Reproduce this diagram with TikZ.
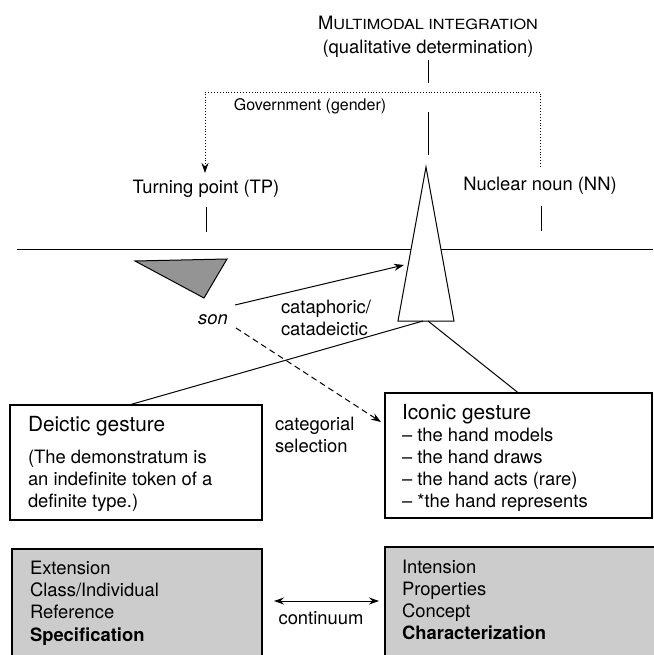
\documentclass[tikz,border=0pt]{standalone}
\usepackage{fontspec}
\usepackage{graphicx}
\setmainfont{TeX Gyre Heros}
\usetikzlibrary{arrows.meta}
\begin{document}
\begin{tikzpicture}[x=1pt,y=-1pt,
  every node/.style={font=\fontsize{18.4}{22}\selectfont, inner sep=0pt, outer sep=0pt},
  ttl/.style={font=\fontsize{20.8}{24}\selectfont},
  sml/.style={font=\fontsize{16}{19}\selectfont},
  txt/.style={anchor=base west},
  ctr/.style={anchor=base},
  ln/.style={line width=1pt},
  boxw/.style={draw, line width=1.2pt, fill=white, anchor=north west},
  boxg/.style={draw, line width=1.2pt, fill=black!20, anchor=north west},
  arr/.style={-{Stealth[length=10pt,width=7pt]}},
  darr/.style={{Stealth[length=10pt,width=7pt]}-{Stealth[length=10pt,width=7pt]}}
]
\useasboundingbox (0,0) rectangle (653,655);

% title
\node[ctr] (mi) at (428,29.5) {M{\fontsize{14}{16}\selectfont\scalebox{1.16}[1]{ULTIMODAL INTEGRATION}}};
\node[ctr] (qd) at (428,53.5) {(qualitative determination)};
\coordinate (t1a) at (428,60); \coordinate (t1b) at (428,83);
\draw[ln] (t1a) -- (t1b);
\coordinate (t2a) at (428,112); \coordinate (t2b) at (428,155);
\draw[ln] (t2a) -- (t2b);

% TP / NN
\node[ctr] (tp) at (206,193.5) {Turning point (TP)};
\node[ctr] (nn) at (540,190.5) {Nuclear noun (NN)};
\coordinate (tpa) at (206,207); \coordinate (tpb) at (206,232);
\draw[ln] (tpa) -- (tpb);
\coordinate (nna) at (541,206); \coordinate (nnb) at (541,231);
\draw[ln] (nna) -- (nnb);

% government (dotted)
\coordinate (nntop) at (540,167);
\coordinate (dr) at (540,92);
\coordinate (dl) at (205,92);
\coordinate (tptop) at (205,173);
\draw[dotted, line width=0.9pt, arr] (nntop) -- (dr) -- (dl) -- (tptop);
\node[sml, ctr] (gov) at (310,110.7) {Government (gender)};

% horizontal line
\coordinate (hl) at (17,249.5); \coordinate (hr) at (653,249.5);
\draw[line width=1.1pt] (hl) -- (hr);

% big triangle
\coordinate (apex) at (426,167);
\coordinate (bl) at (398,321);
\coordinate (br) at (454,321);
\draw[ln, fill=white] (apex) -- (bl) -- (br) -- cycle;
\coordinate (basel) at (423,321);
\coordinate (baser) at (428,321);

% gray triangle
\draw[ln, fill=black!42] (135,261) -- (227,259) -- (204,298) -- cycle;

% son
\node[ctr, font=\fontsize{18.4}{22}\selectfont\itshape] (son) at (213,324) {son};
\coordinate (sa) at (235,305);
\coordinate (ta) at (404,265);
\draw[ln, arr] (sa) -- (ta);
\node[txt] (cat1) at (281,313.5) {cataphoric/};
\node[txt] (cat2) at (281,335) {catadeictic};

% boxes
\node[boxw, minimum width=252, minimum height=115] (dg) at (10,405) {};
\node[boxw, minimum width=267, minimum height=125] (ic) at (385,393) {};
\coordinate (dgtop) at (129,405);
\draw[ln] (basel) -- (dgtop);
\draw[ln] (baser) -- (ic.north);

% dashed
\coordinate (sb) at (236,328);
\coordinate (ica) at (381,422);
\draw[ln, dashed, dash pattern=on 6pt off 4pt, arr] (sb) -- (ica);

% deictic text
\node[ttl, txt] (dg1) at (28,431.5) {Deictic gesture};
\node[txt] (dg2) at (28,463.5) {(The demonstratum is};
\node[txt] (dg3) at (28,485.5) {an indefinite token of a};
\node[txt] (dg4) at (28,507.5) {definite type.)};

\node[txt] (cs1) at (275,430) {categorial};
\node[txt] (cs2) at (275,452) {selection};

% iconic text
\node[ttl, txt] (ic1) at (402,419.5) {Iconic gesture};
\node[txt] (ic2) at (402,441.5) {-- the hand models};
\node[txt] (ic3) at (402,463.5) {-- the hand draws};
\node[txt] (ic4) at (402,485.5) {-- the hand acts (rare)};
\node[txt] (ic5) at (402,507.5) {-- *the hand represents};

% bottom boxes
\node[boxg, minimum width=250, minimum height=120] (lg) at (12,549) {};
\node[boxg, minimum width=280, minimum height=120] (rg) at (385,547) {};
\node[txt] (lg1) at (30,574.5) {Extension};
\node[txt] (lg2) at (30,596.5) {Class/Individual};
\node[txt] (lg3) at (30,618.5) {Reference};
\node[txt, font=\fontsize{18.4}{22}\selectfont\bfseries] (lg4) at (30,641.5) {Specification};
\node[txt] (rg1) at (402,573.5) {Intension};
\node[txt] (rg2) at (402,595.5) {Properties};
\node[txt] (rg3) at (402,617.5) {Concept};
\node[txt, font=\fontsize{18.4}{22}\selectfont\bfseries] (rg4) at (402,639.5) {Characterization};

\coordinate (ca) at (274,601); \coordinate (cb) at (379,601);
\draw[ln, darr] (ca) -- (cb);
\node[ctr] (cont) at (321,624.5) {continuum};
\end{tikzpicture}
\end{document}
